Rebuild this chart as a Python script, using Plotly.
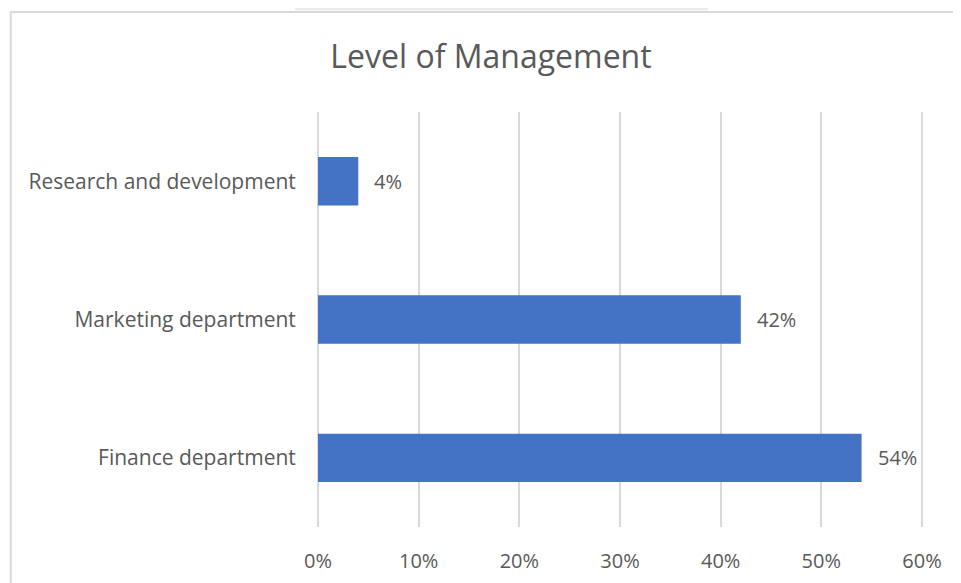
import plotly.graph_objects as go

categories = ['Finance department', 'Marketing department', 'Research and development']
values = [54, 42, 4]
tick_vals = [0, 10, 20, 30, 40, 50, 60]
tick_text = ['0%', '10%', '20%', '30%', '40%', '50%', '60%']

font_family = "Open Sans, Liberation Sans, sans-serif"
text_grey = '#595959'

fig = go.Figure()

fig.add_trace(go.Bar(
    x=values,
    y=categories,
    orientation='h',
    marker=dict(color='#4472C4', line=dict(width=0)),
    width=0.35,
    hoverinfo='skip',
))

# data labels placed just right of each bar
for cat, val in zip(categories, values):
    fig.add_annotation(
        x=val, y=cat, text=f"{val}%",
        xanchor='left', yanchor='middle', xshift=14, showarrow=False,
        font=dict(family=font_family, size=20, color=text_grey),
    )

fig.update_xaxes(
    range=[0, 60.2],  # a touch past 60 so the 60% gridline is drawn
    tickvals=tick_vals,
    ticktext=tick_text,
    showgrid=True,
    gridcolor='#d9d9d9',
    gridwidth=2,
    zeroline=True,
    zerolinecolor='#d9d9d9',
    zerolinewidth=2,
    showline=False,
    ticks='outside',
    ticklen=16,
    tickcolor='rgba(0,0,0,0)',
    tickfont=dict(family=font_family, size=20, color=text_grey),
)
fig.update_yaxes(
    showgrid=False,
    zeroline=False,
    showline=False,
    ticks='outside',
    ticklen=17,
    tickcolor='rgba(0,0,0,0)',
    tickfont=dict(family=font_family, size=21, color=text_grey),
)

# the page has an 8px body margin, so the figure is laid out shifted by 8px
fig.update_layout(
    width=961,
    height=583,
    title=dict(
        text='Level of Management',
        x=483 / 961, xanchor='center',
        y=1 - 49 / 583, yanchor='middle',
        font=dict(family=font_family, size=32, color=text_grey),
    ),
    margin=dict(l=310, r=45, t=104, b=64),
    plot_bgcolor='white',
    paper_bgcolor='white',
    showlegend=False,
    shapes=[
        # chart frame (runs off the right and bottom edges)
        dict(type='rect', xref='paper', yref='paper',
             x0=-0.507, x1=1.2, y0=-0.3, y1=1.241,
             line=dict(color='#d9d9d9', width=2), layer='below'),
        # faint image remnant above the frame
        dict(type='rect', xref='paper', yref='paper',
             x0=-0.038, x1=0.644, y0=1.245, y1=1.3,
             fillcolor='#ebebeb', line=dict(width=0), layer='below'),
    ],
)

fig.write_html("out.html")
